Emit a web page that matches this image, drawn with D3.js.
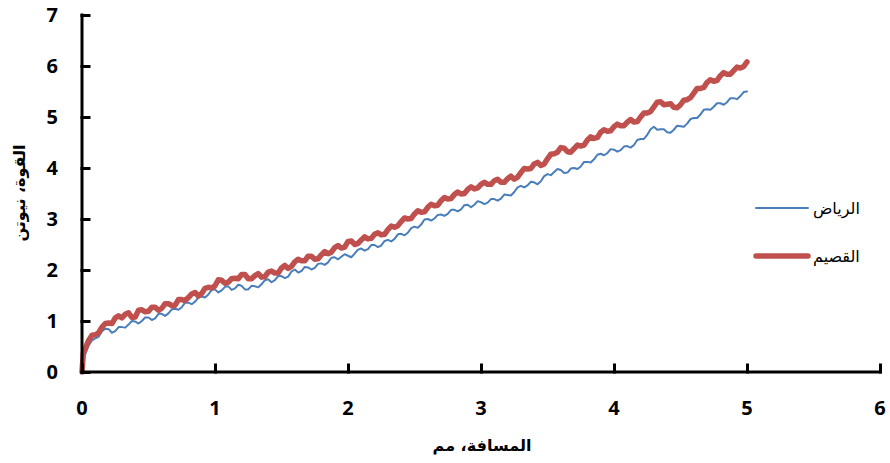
<!DOCTYPE html>
<html>
<head>
<meta charset="utf-8">
<script src="https://cdn.jsdelivr.net/npm/d3@7"></script>
<style>
  body { margin: 0; background: #fff; }
  .tick-label { font-family: "Open Sans", sans-serif; font-weight: 700; font-size: 20px; fill: #000; }
  .axis-title { font-family: "DejaVu Sans", sans-serif; font-weight: 700; font-size: 16px; fill: #000; }
  .legend-text { font-family: "DejaVu Sans", sans-serif; font-size: 16px; fill: #000; }
</style>
</head>
<body>
<div id="chart"></div>
<script>
// distance, mm (shared by both series)
var distance = [0, 0.01,
  0.05, 0.075, 0.1, 0.125, 0.15, 0.175, 0.2, 0.225, 0.25, 0.275,
  0.3, 0.325, 0.35, 0.375, 0.4, 0.425, 0.45, 0.475, 0.5, 0.525,
  0.55, 0.575, 0.6, 0.625, 0.65, 0.675, 0.7, 0.725, 0.75, 0.775,
  0.8, 0.825, 0.85, 0.875, 0.9, 0.925, 0.95, 0.975, 1.0, 1.025,
  1.05, 1.075, 1.1, 1.125, 1.15, 1.175, 1.2, 1.225, 1.25, 1.275,
  1.3, 1.325, 1.35, 1.375, 1.4, 1.425, 1.45, 1.475, 1.5, 1.525,
  1.55, 1.575, 1.6, 1.625, 1.65, 1.675, 1.7, 1.725, 1.75, 1.775,
  1.8, 1.825, 1.85, 1.875, 1.9, 1.925, 1.95, 1.975, 2.0, 2.025,
  2.05, 2.075, 2.1, 2.125, 2.15, 2.175, 2.2, 2.225, 2.25, 2.275,
  2.3, 2.325, 2.35, 2.375, 2.4, 2.425, 2.45, 2.475, 2.5, 2.525,
  2.55, 2.575, 2.6, 2.625, 2.65, 2.675, 2.7, 2.725, 2.75, 2.775,
  2.8, 2.825, 2.85, 2.875, 2.9, 2.925, 2.95, 2.975, 3.0, 3.025,
  3.05, 3.075, 3.1, 3.125, 3.15, 3.175, 3.2, 3.225, 3.25, 3.275,
  3.3, 3.325, 3.35, 3.375, 3.4, 3.425, 3.45, 3.475, 3.5, 3.525,
  3.55, 3.575, 3.6, 3.625, 3.65, 3.675, 3.7, 3.725, 3.75, 3.775,
  3.8, 3.825, 3.85, 3.875, 3.9, 3.925, 3.95, 3.975, 4.0, 4.025,
  4.05, 4.075, 4.1, 4.125, 4.15, 4.175, 4.2, 4.225, 4.25, 4.275,
  4.3, 4.325, 4.35, 4.375, 4.4, 4.425, 4.45, 4.475, 4.5, 4.525,
  4.55, 4.575, 4.6, 4.625, 4.65, 4.675, 4.7, 4.725, 4.75, 4.775,
  4.8, 4.825, 4.85, 4.875, 4.9, 4.925, 4.95, 4.975, 5.0];

// force, N - Riyadh
var riyadh = [0, 0.25,
  0.52, 0.62, 0.66, 0.69, 0.80, 0.85, 0.84, 0.77, 0.80, 0.88,
  0.88, 0.87, 0.93, 1.00, 0.99, 0.95, 1.00, 1.07, 1.07, 1.02,
  1.05, 1.14, 1.14, 1.10, 1.15, 1.23, 1.24, 1.22, 1.27, 1.36,
  1.36, 1.33, 1.38, 1.46, 1.48, 1.46, 1.52, 1.61, 1.62, 1.56,
  1.60, 1.67, 1.68, 1.61, 1.64, 1.71, 1.69, 1.62, 1.62, 1.69,
  1.68, 1.66, 1.72, 1.80, 1.82, 1.76, 1.80, 1.88, 1.88, 1.84,
  1.87, 1.97, 2.01, 1.95, 1.98, 2.06, 2.05, 2.01, 2.04, 2.12,
  2.13, 2.10, 2.15, 2.24, 2.25, 2.21, 2.26, 2.31, 2.28, 2.25,
  2.32, 2.40, 2.42, 2.38, 2.41, 2.49, 2.49, 2.45, 2.48, 2.57,
  2.59, 2.56, 2.61, 2.70, 2.71, 2.68, 2.73, 2.82, 2.85, 2.83,
  2.89, 2.99, 3.00, 2.97, 3.01, 3.08, 3.09, 3.06, 3.10, 3.18,
  3.18, 3.15, 3.19, 3.27, 3.28, 3.23, 3.28, 3.35, 3.33, 3.29,
  3.32, 3.39, 3.39, 3.36, 3.40, 3.48, 3.47, 3.46, 3.53, 3.62,
  3.65, 3.62, 3.66, 3.73, 3.72, 3.68, 3.74, 3.84, 3.88, 3.86,
  3.92, 3.98, 3.96, 3.90, 3.91, 3.99, 4.00, 3.98, 4.03, 4.12,
  4.12, 4.11, 4.17, 4.26, 4.28, 4.25, 4.29, 4.37, 4.36, 4.32,
  4.35, 4.42, 4.43, 4.40, 4.45, 4.55, 4.57, 4.57, 4.65, 4.76,
  4.81, 4.75, 4.76, 4.76, 4.70, 4.69, 4.75, 4.83, 4.82, 4.81,
  4.87, 4.96, 4.98, 4.98, 5.05, 5.14, 5.15, 5.14, 5.20, 5.27,
  5.27, 5.24, 5.29, 5.37, 5.37, 5.35, 5.41, 5.49, 5.50];

// force, N - Qassim
var qassim = [0, 0.37,
  0.62, 0.72, 0.73, 0.77, 0.88, 0.95, 0.96, 0.95, 1.06, 1.10,
  1.06, 1.13, 1.16, 1.07, 1.08, 1.21, 1.22, 1.18, 1.19, 1.27,
  1.27, 1.21, 1.25, 1.34, 1.34, 1.30, 1.31, 1.42, 1.42, 1.40,
  1.46, 1.53, 1.56, 1.49, 1.54, 1.64, 1.66, 1.65, 1.69, 1.81,
  1.80, 1.74, 1.76, 1.83, 1.84, 1.83, 1.91, 1.91, 1.83, 1.83,
  1.89, 1.93, 1.86, 1.87, 1.96, 1.98, 1.94, 1.94, 2.04, 2.09,
  2.03, 2.07, 2.16, 2.21, 2.18, 2.18, 2.27, 2.27, 2.21, 2.22,
  2.30, 2.36, 2.32, 2.35, 2.44, 2.48, 2.43, 2.45, 2.56, 2.57,
  2.50, 2.52, 2.59, 2.65, 2.61, 2.62, 2.70, 2.73, 2.69, 2.70,
  2.79, 2.86, 2.84, 2.87, 2.95, 3.02, 3.00, 3.01, 3.10, 3.16,
  3.13, 3.14, 3.23, 3.29, 3.26, 3.27, 3.36, 3.42, 3.39, 3.40,
  3.48, 3.53, 3.49, 3.50, 3.58, 3.63, 3.59, 3.61, 3.68, 3.72,
  3.68, 3.68, 3.75, 3.78, 3.72, 3.72, 3.79, 3.84, 3.78, 3.82,
  3.91, 3.99, 3.98, 3.99, 4.08, 4.11, 4.05, 4.08, 4.18, 4.27,
  4.28, 4.31, 4.40, 4.39, 4.32, 4.31, 4.38, 4.45, 4.43, 4.45,
  4.55, 4.61, 4.58, 4.60, 4.70, 4.75, 4.72, 4.73, 4.81, 4.86,
  4.83, 4.83, 4.90, 4.95, 4.90, 4.91, 5.00, 5.08, 5.08, 5.11,
  5.20, 5.29, 5.30, 5.24, 5.25, 5.26, 5.19, 5.18, 5.24, 5.33,
  5.34, 5.38, 5.47, 5.56, 5.56, 5.58, 5.68, 5.73, 5.70, 5.72,
  5.81, 5.87, 5.84, 5.84, 5.91, 5.98, 5.96, 5.99, 6.08];

var seriesNames = ['الرياض', 'القصيم'];
var xTicks = [0, 1, 2, 3, 4, 5, 6];
var yTicks = [0, 1, 2, 3, 4, 5, 6, 7];
var xTitle = 'المسافة، مم';
var yTitle = 'القوة، نيوتن';

var width = 890, height = 463;
var colors = ['#4a7ebb', '#c0504d'];
var widths = [2, 5.5];

var svg = d3.select('#chart').append('svg')
    .attr('width', width)
    .attr('height', height);

var x = d3.scaleLinear().domain([0, 6]).range([82, 880]);
var y = d3.scaleLinear().domain([0, 7]).range([372, 15]);

// data lines
var series = [riyadh, qassim].map(vals => vals.map((v, i) => ({x: distance[i], y: v})));

var line = d3.line()
    .x(d => x(d.x))
    .y(d => y(d.y));

svg.append('g')
    .selectAll('path')
    .data(series)
    .enter()
    .append('path')
    .attr('d', d => line(d))
    .attr('fill', 'none')
    .attr('stroke', (d, i) => colors[i])
    .attr('stroke-width', (d, i) => widths[i])
    .attr('stroke-linejoin', 'round')
    .attr('stroke-linecap', 'round');

// axes, ticks pointing inwards
var xAxis = d3.axisTop(x).tickValues(xTicks).tickSize(7).tickFormat('');
var yAxis = d3.axisRight(y).tickValues(yTicks).tickSize(7).tickFormat('');

svg.append('g')
    .attr('transform', `translate(0, ${y(0)})`)
    .call(xAxis)
    .call(g => g.select('.domain').attr('d', `M${x(0)},0H${x(6)}`));

svg.append('g')
    .attr('transform', `translate(${x(0)}, 0)`)
    .call(yAxis)
    .call(g => g.select('.domain').attr('d', `M0,${y(0)}V${y(7)}`));

svg.selectAll('.domain, .tick line')
    .attr('stroke', '#000')
    .attr('stroke-width', 3)
    .attr('stroke-linecap', 'square');

// tick labels
svg.append('g')
    .selectAll('text')
    .data(xTicks)
    .enter()
    .append('text')
    .attr('class', 'tick-label')
    .attr('x', d => x(d))
    .attr('y', 415)
    .attr('text-anchor', 'middle')
    .text(d => d);

svg.append('g')
    .selectAll('text')
    .data(yTicks)
    .enter()
    .append('text')
    .attr('class', 'tick-label')
    .attr('x', 58)
    .attr('y', d => y(d) + 7)
    .attr('text-anchor', 'end')
    .text(d => d);

// axis titles
svg.append('text')
    .attr('class', 'axis-title')
    .attr('x', 482)
    .attr('y', 451)
    .attr('text-anchor', 'middle')
    .attr('direction', 'rtl')
    .text(xTitle);

svg.append('text')
    .attr('class', 'axis-title')
    .attr('transform', 'translate(25, 193) rotate(-90)')
    .attr('text-anchor', 'middle')
    .attr('direction', 'rtl')
    .text(yTitle);

// legend
var legend = svg.append('g')
    .selectAll('g')
    .data(seriesNames)
    .enter()
    .append('g')
    .attr('transform', (d, i) => `translate(0, ${208 + i * 48})`);

legend.append('line')
    .attr('x1', 756)
    .attr('x2', 808)
    .attr('stroke', (d, i) => colors[i])
    .attr('stroke-width', (d, i) => widths[i])
    .attr('stroke-linecap', 'round');

legend.append('text')
    .attr('class', 'legend-text')
    .attr('x', 813)
    .attr('y', 6)
    .attr('text-anchor', 'start')
    .text(d => d);
</script>
</body>
</html>
